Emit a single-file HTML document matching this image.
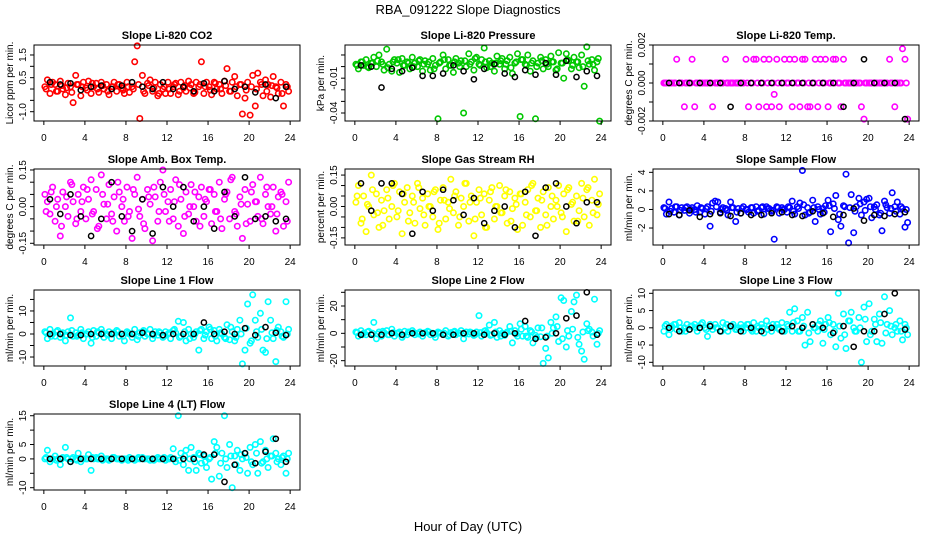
<!DOCTYPE html>
<html><head><meta charset="utf-8"><style>
html,body{margin:0;padding:0;background:#fff;}
svg{display:block;font-family:"Liberation Sans",sans-serif;}
</style></head><body>
<svg id="chart" width="936" height="540" viewBox="0 0 936 540" xmlns="http://www.w3.org/2000/svg">
<rect width="936" height="540" fill="#fff"/>
<text x="468" y="14" font-size="13" text-anchor="middle">RBA_091222  Slope Diagnostics</text>
<text x="468" y="531" font-size="13" text-anchor="middle">Hour of Day (UTC)</text>
</svg>
<script>
// x-axis ticks (hours)
const xTicks = [0,4,8,12,16,20,24];
const xTickLabels = ["0","4","8","12","16","20","24"];

// panel titles / y labels
const titles = ["Slope Li-820 CO2","Slope Li-820 Pressure","Slope Li-820 Temp.","Slope Amb. Box Temp.","Slope Gas Stream RH","Slope Sample Flow","Slope Line 1 Flow","Slope Line 2 Flow","Slope Line 3 Flow","Slope Line 4 (LT) Flow"];
const yLabels = ["Licor ppm per min.","kPa per min.","degrees C per min.","degrees C per min.","percent per min.","ml/min per min.","ml/min per min.","ml/min per min.","ml/min per min.","ml/min per min."];
const colors = ["#FF0000","#00C800","#FF00FF","#FF00FF","#FFFF00","#0000FF","#00FFFF","#00FFFF","#00FFFF","#00FFFF"];

// y limits
const yMin = [-1.41,-0.0469,-0.002,-0.157,-0.184,-3.83,-13.9,-23.9,-11.07,-10.8];
const yMax = [1.94,0.0186,0.002,0.154,0.179,4.36,19.1,31.7,10.96,15.6];

// y ticks + labels
const yTicks = [
 [-1,-0.5,0,0.5,1,1.5],
 [0.01,0,-0.01,-0.02,-0.03,-0.04],
 [0.002,0.001,0,-0.001,-0.002],
 [0.15,0.10,0.05,0,-0.05,-0.10,-0.15],
 [0.15,0.10,0.05,0,-0.05,-0.10,-0.15],
 [4,2,0,-2],
 [15,10,5,0,-5,-10],
 [30,20,10,0,-10,-20],
 [10,5,0,-5,-10],
 [15,10,5,0,-5,-10]
];
const yTickLabels = [
 ["-1.0","","","0.5","","1.5"],
 ["","","-0.01","","","-0.04"],
 ["0.002","","0.000","","-0.002"],
 ["0.15","","","0.00","","","-0.15"],
 ["0.15","","","0.00","","","-0.15"],
 ["4","2","0","-2"],
 ["","10","","0","","-10"],
 ["","20","","0","","-20"],
 ["10","5","0","-5","-10"],
 ["15","","5","0","","-10"]
];

// colored series (every 15 min)
const sCO2 = [0.1,0.4,-0.2,0.3,0.2,-0.1,0.35,0.0,-0.25,0.25,0.1,-0.6,0.6,0.2,-0.3,0.3,
0.05,0.35,-0.2,0.1,0.25,-0.15,0.3,0.0,0.2,-0.25,0.1,0.3,-0.1,0.2,0.05,-0.2,
0.3,-0.15,0.1,1.2,1.9,-1.3,0.6,-0.2,0.25,0.4,-0.1,0.3,-0.3,0.2,0.0,-0.2,
0.3,-0.2,0.1,0.25,-0.25,0.3,0.05,-0.1,0.35,0.2,-0.2,0.3,0.1,1.2,-0.2,0.3,
0.1,-0.25,0.3,0.0,0.2,-0.2,0.35,0.9,-0.1,0.3,0.55,-0.3,0.2,-1.1,-0.4,0.3,
-1.15,0.6,-0.75,0.7,0.3,-0.3,0.4,0.2,-0.35,0.55,0.1,-0.2,0.3,-0.75,0.2,-0.1];
const sPress = [.002,-.002,.004,.001,.006,-.001,.003,.008,.000,.010,.004,-.003,.015,.002,-.004,.006,
.003,-.005,.007,.001,.004,-.002,.008,.003,.000,.006,-.004,.005,.002,-.003,.007,.001,
-.045,.004,.010,-.002,.006,.001,-.005,.007,.003,.005,-.040,.000,.011,.004,-.003,.008,
.002,.006,.016,-.001,.005,.003,-.004,.009,.002,.007,-.002,.005,.008,-.006,.003,.011,
-.043,.006,.002,.010,-.004,.005,-.045,.003,.008,-.002,.006,.000,.009,.004,-.003,.012,
.003,-.010,.011,.005,-.002,.008,.004,-.001,.010,-.017,.017,.002,.006,-.003,.004,-.047];
const sTemp = [0,0,0,0,0,.00125,0,0,-.00125,0,0,.00125,-.00125,0,0,0,
0,0,0,-.00125,0,0,0,0,.00125,0,0,0,0,0,0,0,
.00125,-.00125,0,.00125,.00125,-.00125,0,.00125,-.00125,.00125,-.00125,-.0006,.00125,-.00125,0,.00125,
0,.00125,-.00125,.00125,0,-.00125,.00125,.00125,-.00125,-.00125,0,.00125,-.00125,.00125,0,.00125,
-.00125,0,.00125,.00125,0,-.00125,.00125,0,0,0,0,0,0,-.00125,-.0019,0,
0,0,0,0,0,0,0,0,.00125,0,-.00125,0,0,.0018,.00125,-.0019];
const sBox = [.05,.02,-.03,.08,-.06,.03,-.12,.06,.0,-.04,.10,.02,-.07,.05,-.02,.08,
-.05,.03,.11,-.02,.07,-.08,.13,.01,-.05,.09,-.03,.04,-.10,.06,.0,-.06,
.08,-.02,-.13,.05,.12,-.04,.03,-.09,.07,.01,-.14,.04,-.06,.10,.15,-.02,
.02,.07,-.05,.11,-.08,.03,-.11,.06,-.03,.09,.0,-.06,.04,.08,-.04,.02,
.07,-.07,.05,-.02,.10,-.09,.03,.06,-.05,.12,-.02,-.08,.04,-.13,.07,.01,
-.06,.09,.02,-.04,.12,-.07,.05,.0,-.03,.08,-.1,.04,.06,-.08,.02,.10];
const sRH = [.02,.10,-.08,.05,-.12,.0,.15,-.04,.06,-.10,.03,-.02,.08,-.06,.0,.11,
-.05,.07,-.13,.02,.09,-.03,.05,-.08,.11,-.01,.04,-.09,.06,.0,-.05,.08,
-.11,.03,.09,-.06,.02,.13,-.03,.07,-.09,.04,.0,.11,-.07,.05,-.14,.02,
.08,-.04,.06,-.10,.03,.09,-.06,.0,.10,-.03,.05,-.08,.07,-.01,.04,-.11,
.06,-.09,.02,.08,-.05,.11,-.02,.04,-.10,.07,-.04,.09,.0,-.06,.03,.10,
-.03,.06,-.12,.09,.01,-.07,.05,-.02,.11,-.05,.08,-.09,.03,.13,-.04,.06];
const sSample = [.2,-.5,.8,.1,-.3,.3,-.6,.2,-.1,.3,-.4,.2,.0,.4,-.3,.1,
-.5,.3,-1.8,.7,.9,.8,-.3,.2,.1,-.6,.8,.2,-1.3,.1,-.4,.3,
.0,-.3,.2,-.4,.3,-.1,.2,-.5,.3,.1,-.2,-3.2,.3,-.4,.2,.0,
-.3,.2,.9,-.5,.3,.7,4.2,-.6,.2,-.3,1.0,-1.3,.3,-.5,.1,.4,
1.0,-2.4,.6,1.5,-1.1,-1.8,.4,3.8,-3.6,1.6,-2.5,.3,1.2,-.6,.8,1.1,
1.2,-.9,.3,.5,-.6,-2.3,.9,.2,-.4,1.8,.3,.8,-.5,.1,-1.9,-1.4];
const sLine1 = [1,-2,2,0,-1,1.5,-1.5,0.5,-3,1,7,-1,0.5,-0.5,2,-2,
0,1,-4,1.5,-1,0.5,2,-1.5,0,1,-2,0.5,1.5,-1,0,-3,
1,0,-1.5,2,-2.5,0.5,1,-1,0,2,-2,1,-0.5,0.5,-1.5,1,
0,-2,1.5,0.5,5.5,-1,5,-3,2,0,-1.5,1,-7,2,-2,1,
3,-2,1.5,-3,2,0,-1.5,4,-2.5,1,-3,2,6,-13,-7,13,
-4,17,6,-1.5,9,-7,-8,14,6,-2,-12,3,1,-1.5,14,2];
const sLine2 = [1,-2,2,0,-1,1.5,-1,8,-4,1,-2,0.5,2,-1,3,-2,
0,1,-3,1.5,-1,0.5,2,-1,0,1,-2,0.5,1.5,-1,0,-3,
1,0,-1,2,-2,0.5,1,-1,0,2,-4,1,-0.5,0.5,-1.5,1,
13,-2,1.5,0.5,6,-1,8,-3,2,0,-1.5,1,5,-7,2,-2,
7,-2,5,-3,2,-7,-1.5,4,-2.5,-22,-11,-18,8,4,12,-6,
26,24,-10,-2,16,23,28,-8,-13,-19,7,3,1,25,-8,2];
const sLine3 = [-1,1,-2,0.5,1,-0.5,1.5,-1,0,1,-0.5,0.5,1,-1,0,1.5,
0,-2.5,1,-0.5,1,0,-1,1.5,0,-1,0.5,1,-0.5,0,1,-1,
0,1,-0.5,1.5,-1,0,1,-1.5,2,0.5,-1,0,1,-0.5,1.5,-1,
1,4.5,-1,5.5,2,-1,3,-5,4.5,-4,1,0,-1,2,-4.5,1,
3,-2,1,-5.5,10,-3,4,-6,2,4.5,0,-1,3,-10,6,-4,
7,-1,2.5,-4,4,-4.5,9,1,5,-2,0,-1,2,-3.5,1,-2];
const sLine4 = [0,3,-1,0,1,0,-2,0.5,4,0,-1,0.5,0,2,-1,0,
0,1.5,-4,0,0.5,0,1,0,0,-0.5,0,0.5,0,0,-0.5,0,
0,0.5,0,-0.5,0,0,0.5,0,0,-0.5,0,0,0.5,0,0,-0.5,
0,0.5,3.5,-1,15,2,-2,3,-4,4,0.5,-4,2,-1.5,1,-3,
0,-7,6,4,-6,2,15,-3,5,-10,1,3,-4,0,2,-5,
4,-2,5,-5,6,-1,3,-3,1,7,2,0,-2,1,-5,2];

// additional colored samples (every 30 min, offset)
const bCO2 = [0.0,0.2,-0.1,0.15,0.05,-0.15,0.2,0.1,-0.05,0.25,0.0,0.15,-0.1,0.1,0.2,-0.05,0.1,0.0,0.2,-0.1,0.15,0.05,-0.2,0.1,0.0,0.2,-0.1,0.15,0.05,-0.15,0.2,0.1,-0.05,0.25,0.0,0.15,-0.1,0.1,0.2,-0.05,0.1,0.0,0.2,-0.1,0.15,0.05,-0.2,0.1];
const bPress = [.001,.004,.000,.003,.005,.002,-.001,.004,.006,.001,.003,.000,.005,.002,.004,-.002,.003,.006,.001,.004,.000,.005,.002,.007,.001,.004,.000,.003,.005,.002,-.001,.004,.006,.001,.003,.000,.005,.002,.004,-.002,.003,.006,.001,.004,.000,.005,.002,.007];
const bTemp = [0,0,0,0,0,0,0,0,0,0,0,0,0,0,0,0,0,0,0,0,0,0,0,0,0,0,0,0,0,0,0,0,0,0,0,0,0,0,0,0,0,0,0,0,0,0,0,0];
const bBox = [-.02,.06,.0,-.08,.04,.09,-.05,.02,.07,-.03,-.09,.05,.01,-.06,.10,.03,-.04,.07,-.01,-.07,.04,.08,-.02,.05,-.06,.02,.09,-.04,.0,.06,-.08,.03,.07,-.02,-.05,.05,.11,-.03,.01,-.07,.06,.02,-.05,.08,.0,-.03,.05,-.06];
const bRH = [.05,-.06,.01,.08,-.03,-.09,.04,.10,-.02,.06,-.07,.02,.09,-.04,.0,.07,-.08,.03,-.01,.05,-.05,.11,.02,-.06,.04,-.10,.07,.0,-.03,.08,-.07,.01,.06,-.04,.10,-.02,.03,-.09,.05,.0,-.05,.08,.02,-.07,.04,.09,-.03,.01];
const bSample = [.1,-.2,.3,-.1,.2,.0,-.3,.2,.1,-.2,.3,.0,-.1,.2,-.3,.1,.0,.2,-.2,.3,.1,-.1,.2,.0,.3,-.2,.1,.5,-.4,.2,.0,-.3,.4,.1,-.5,.3,.2,-.2,.6,-.1,.3,.0,-.4,.5,.1,-.2,.3,.0];
const bLine1 = [0.5,-1,1,0,-0.5,1.5,-1,0.5,0,-1.5,1,0.5,-0.5,0,1,-1,0.5,0,-1,1.5,0,-0.5,1,-1,0.5,2,-1.5,1,-2,0,1.5,-0.5,2,-1,0.5,-2,3,-1.5,0,2.5,-3,1,2,-2,0.5,1.5,-1,0];
const bLine2 = [0.5,-1,1,0,-0.5,1.5,-1,0.5,0,-1.5,1,0.5,-0.5,0,1,-1,0.5,0,-1,1.5,0,-0.5,1,-1,0.5,2,-1.5,1,-2,0,1.5,-0.5,3,-2,1,-3,4,-2,0,5,-4,2,3,-3,1,2,-2,0];
const bLine3 = [0.5,-0.5,1,0,-1,0.5,0,1,-0.5,0.5,0,-1,1,0.5,-0.5,0,1,-1,0.5,0,-0.5,1,0,-1,0.5,1.5,-1,0.5,-1.5,0,1,-0.5,1.5,-1,0.5,-2,2,-1,0,2.5,-2,1,1.5,-1.5,0.5,1,-1,0];
const bLine4 = [0.5,0,-0.5,0,0.5,0,-0.5,0,0,0.5,0,-0.5,0,0.5,0,0,-0.5,0,0.5,0,0,-0.5,0,0.5,0,0,-0.5,1,0,-1,1.5,-1,0.5,2,-1.5,0,1,-2,1.5,0.5,-1,2,-1.5,0,1,-1,0.5,0];

// black series (hourly)
const kCO2 = [0.3,0.2,0.25,-0.05,0.1,0.15,0.0,0.15,0.3,0.1,0.0,0.3,0.0,0.1,-0.1,0.25,-0.1,0.35,0.0,0.1,-0.15,0.2,-0.4,0.1];
const kPress = [.001,.000,-.018,-.002,-.004,-.001,-.008,-.008,-.006,.001,-.004,-.011,-.002,.002,-.006,-.009,-.003,-.007,.003,-.007,.005,-.009,-.004,-.008];
const kTemp = [0,0,0,0,0,0,-.00125,0,0,0,0,0,0,0,0,0,0,-.00125,0,.00125,0,0,0,-.0019];
const kBox = [.03,-.03,.05,-.04,-.12,-.05,.10,-.04,-.1,.03,-.11,.08,.0,.08,-.06,.0,-.09,.06,-.04,.12,-.05,-.04,-.06,-.05];
const kRH = [.11,-.02,.11,.11,.06,-.13,.07,-.02,.08,.03,-.04,.04,-.08,-.02,.0,-.10,.07,-.14,.09,.11,.0,-.08,.02,.02];
const kSample = [-.5,-.6,-.1,-.8,-.5,-.4,-.7,-.4,-.6,-.6,-.4,-.3,-.6,-.7,-.2,-.4,-.8,-.6,.1,-1.2,-.6,-.7,-.5,-.3];
const kLine1 = [0,0,-0.5,-0.5,0,0,0,0,0,0.5,0,-0.5,0,0,0,5,0,1,0,2.5,-0.5,3,0.5,-0.5];
const kLine2 = [-1,-1,-1,0,-1,0,0,0,-1,-1,0,0,-1,0,-1,0,9,-4,-3,0,11,13,30,-1];
const kLine3 = [0,-1,-0.5,0,0.5,-1,0.5,-1,0,-1,0,-1,0.5,0,1,0,-1.5,0.5,-5.5,-1,-1,4,10,-0.5];
const kLine4 = [0,0,-1,0,0,0,0,0,0,0,0,0,0,0,0,1.5,1.5,-8,-2,2,-1.5,2.5,7,-1];

const colorSeries = [sCO2,sPress,sTemp,sBox,sRH,sSample,sLine1,sLine2,sLine3,sLine4];
const extraSeries = [bCO2,bPress,bTemp,bBox,bRH,bSample,bLine1,bLine2,bLine3,bLine4];
const blackSeries = [kCO2,kPress,kTemp,kBox,kRH,kSample,kLine1,kLine2,kLine3,kLine4];

const NS = "http://www.w3.org/2000/svg";
const svg = document.getElementById("chart");
const colLeft = [34,345,653], rowTop = [45,169,290,414], W = 266, H = 76;
const XMIN = -0.96, XMAX = 24.96;
function mk(tag, attrs, parent){const e=document.createElementNS(NS,tag);for(const k in attrs)e.setAttribute(k,attrs[k]);(parent||svg).appendChild(e);return e;}

for(let p=0;p<10;p++){
  const L = colLeft[p%3], T = rowTop[Math.floor(p/3)];
  const g = mk("g",{});
  
  
  const xs = v => L + (v - XMIN)/(XMAX - XMIN)*W;
  const ys = v => T + H - (v - yMin[p])/(yMax[p] - yMin[p])*H;
  const pts = mk("g",{fill:"none","stroke-width":"1.6"},g);
  
  
  colorSeries[p].forEach((v,i)=>{
    const c = mk("circle",{cx:xs(i*0.25+0.1).toFixed(1),cy:ys(v).toFixed(1),r:"2.7",stroke:colors[p]},pts);
    
    
  });
  extraSeries[p].forEach((v,i)=>{
    const c = mk("circle",{cx:xs(i*0.5+0.22).toFixed(1),cy:ys(v).toFixed(1),r:"2.7",stroke:colors[p]},pts);
    
    
  });
  const bpts = mk("g",{fill:"none","stroke-width":"1.5",stroke:"#000"},g);
  
  
  blackSeries[p].forEach((v,i)=>{
    const c = mk("circle",{cx:xs(i+0.6).toFixed(1),cy:ys(v).toFixed(1),r:"2.6"},bpts);
    
    
  });
  const box = mk("rect",{x:L,y:T,width:W,height:H,fill:"none",stroke:"#000","stroke-width":"1"},g);
  
  
  const xa = mk("g",{},g);
  
  
  mk("line",{x1:xs(0),x2:xs(24),y1:T+H,y2:T+H,stroke:"#000"},xa);
  xTicks.forEach((t,i)=>{
    mk("line",{x1:xs(t),x2:xs(t),y1:T+H,y2:T+H+4,stroke:"#000"},xa);
    const tx = mk("text",{x:xs(t),y:T+H+20,"font-size":"10","text-anchor":"middle"},xa);
    tx.textContent = xTickLabels[i];
    
    
  });
  const ya = mk("g",{},g);
  
  
  yTicks[p].forEach((t,i)=>{
    mk("line",{x1:L-4,x2:L,y1:ys(t),y2:ys(t),stroke:"#000"},ya);
    if(yTickLabels[p][i]){
      const tx = mk("text",{x:L-8,y:ys(t),"font-size":"10","text-anchor":"middle",transform:`rotate(-90 ${L-8} ${ys(t)})`},ya);
      tx.textContent = yTickLabels[p][i];
      
      
    }
  });
  const yl = mk("text",{x:L-21,y:T+H/2,"font-size":"10","text-anchor":"middle",transform:`rotate(-90 ${L-21} ${T+H/2})`},g);
  yl.textContent = yLabels[p];
  
  
  const tt = mk("text",{x:L+W/2,y:T-6,"font-size":"11","font-weight":"bold","text-anchor":"middle"},g);
  tt.textContent = titles[p];
  
  
}
</script>
</body></html>
